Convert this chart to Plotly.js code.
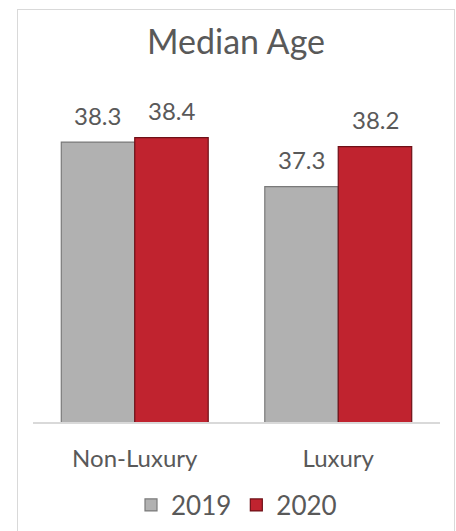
<!DOCTYPE html>
<html>
<head>
<meta charset="utf-8">
<script src="https://cdn.plot.ly/plotly-3.0.1.min.js"></script>
<style>
  html, body { margin: 0; padding: 0; background: #ffffff; }
  #wrap { position: relative; width: 456px; height: 531px; overflow: hidden; }
  #chart { position: absolute; left: 0; top: 0; width: 456px; height: 531px; }
  #frame { position: absolute; left: 17px; top: 9px; width: 438px; height: 540px;
           border: 1px solid #d9d9d9; box-sizing: border-box; pointer-events: none; }
</style>
</head>
<body>
<div id="wrap">
  <div id="chart"></div>
  <div id="frame"></div>
</div>
<script>
const categories = ["Non-Luxury", "Luxury"];
const seriesNames = ["2019", "2020"];
const values2019 = [38.3, 37.3];
const values2020 = [38.4, 38.2];

const FONT = "Lato, 'Open Sans', sans-serif";
const TXT = "#595959";

const traces = [
  {
    type: "bar", name: seriesNames[0], x: categories, y: values2019,
    marker: { color: "#b1b1b1", line: { color: "#7a7a7a", width: 1.2 } },
    hoverinfo: "skip"
  },
  {
    type: "bar", name: seriesNames[1], x: categories, y: values2020,
    marker: { color: "#c0232f", line: { color: "#6e1017", width: 1.2 } },
    hoverinfo: "skip"
  }
];

const halfBar = 36.8;
const annotations = [];
[values2019, values2020].forEach((vals, si) => {
  vals.forEach((v, ci) => {
    annotations.push({
      x: categories[ci], y: v, xref: "x", yref: "y",
      text: v.toFixed(1), showarrow: false,
      xanchor: "center", yanchor: "middle",
      xshift: si === 0 ? -halfBar : halfBar, yshift: 27,
      font: { family: FONT, size: 24, color: TXT }
    });
  });
});

const layout = {
  width: 456, height: 531,
  margin: { l: 33, r: 16, t: 111, b: 109, autoexpand: false },
  paper_bgcolor: "rgba(0,0,0,0)", plot_bgcolor: "rgba(0,0,0,0)",
  barmode: "group", bargap: 0.278, bargroupgap: 0,
  title: {
    text: "Median Age", x: 236 / 456, xanchor: "center",
    y: 1 - 42 / 531, yanchor: "middle", yref: "container",
    font: { family: FONT, size: 34, color: TXT }
  },
  xaxis: {
    type: "category", showline: true, linecolor: "#d9d9d9", linewidth: 2,
    ticks: "", showgrid: false, zeroline: false, automargin: false,
    ticklabelstandoff: 14,
    tickfont: { family: FONT, size: 24, color: TXT }
  },
  yaxis: { range: [32, 39], visible: false, fixedrange: true, automargin: false },
  showlegend: true,
  legend: {
    orientation: "h", x: 0.5, xanchor: "center", y: -0.267, yanchor: "middle",
    font: { family: FONT, size: 26, color: TXT },
    itemwidth: 30, traceorder: "normal"
  },
  annotations: annotations
};

Plotly.newPlot("chart", traces, layout, { staticPlot: true, displayModeBar: false });
</script>
</body>
</html>
